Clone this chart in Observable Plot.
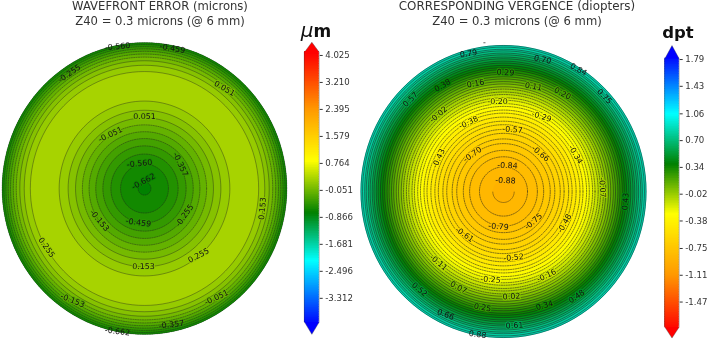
<!DOCTYPE html>
<html>
<head>
<meta charset="utf-8">
<script src="https://cdn.jsdelivr.net/npm/d3@7"></script>
<script src="https://cdn.jsdelivr.net/npm/@observablehq/plot@0.6"></script>
<style>
html,body{margin:0;padding:0;background:#fff}
#root{position:relative;width:709px;height:339px;overflow:hidden;filter:blur(.4px);font-family:"DejaVu Sans",sans-serif}
#root>*{position:absolute}
.t{color:#333;line-height:11px;text-align:center;white-space:nowrap;transform:translateX(-50%)}
.u{color:#111;white-space:nowrap;transform:translateX(-50%)}
</style>
</head>
<body>
<div id="root"></div>
<script>
// Wavefront error: contour levels and the two pupil radii at which each occurs
const waveLevels   = [-0.662,-0.560,-0.459,-0.357,-0.255,-0.153,-0.051,0.051,0.153,0.255];
const waveRhoOuter = [0.999,0.986,0.972,0.9565,0.940,0.921,0.900,0.875,0.844,0.801];
const waveRhoInner = [0.045,0.168,0.236,0.292,0.342,0.389,0.436,0.484,0.536,0.599];
const waveTicks    = [4.025,3.210,2.395,1.579,0.764,-0.051,-0.866,-1.681,-2.496,-3.312];

// Vergence: contour levels and pupil radius of each
const vergLevels = [-0.88,-0.84,-0.79,-0.75,-0.70,-0.66,-0.61,-0.57,-0.52,-0.48,-0.43,-0.38,-0.34,-0.29,-0.25,-0.20,-0.16,-0.11,-0.07,-0.02,0.02,0.07,0.11,0.16,0.20,0.25,0.29,0.34,0.38,0.43,0.48,0.52,0.57,0.61,0.66,0.70,0.75,0.79,0.84,0.88];
const vergRho    = [0.075,0.168,0.237,0.281,0.327,0.359,0.397,0.424,0.456,0.480,0.508,0.535,0.556,0.581,0.600,0.623,0.640,0.662,0.679,0.699,0.715,0.734,0.750,0.768,0.783,0.800,0.814,0.831,0.845,0.861,0.877,0.890,0.906,0.918,0.933,0.945,0.960,0.971,0.986,0.997];
const vergTicks  = [1.79,1.43,1.06,0.70,0.34,-0.02,-0.38,-0.75,-1.11,-1.47];

// Contour labels: text, position on the pupil, rotation
const waveLabels = [
["-0.560",-27,142,-5],["-0.459",28,140,10],["-0.255",-75,115,-35],["0.051",80,100,30],["0.051",0,72,0],
["-0.051",-34,54,-25],["-0.560",-5,25,-5],["-0.357",36,24,65],["-0.662",-1,7,-28],["-0.153",-45,-32,50],
["-0.459",-6,-34,8],["-0.255",40,-27,-55],["0.153",-1,-78,0],["0.255",54,-67,-28],["0.255",-98,-59,55],
["0.153",118,-20,-85],["-0.153",-72,-112,22],["-0.051",72,-109,-25],["-0.357",27,-136,-7],["-0.662",-27,-143,7]];
const vergLabels = [
["-",-19,149,0],["0.79",-35,138,-8],["0.70",39,132,12],["0.84",75,122,28],["0.75",101,95,45],["0.57",-93,92,-45],
["0.38",-61,106,-30],["0.29",2,119,3],["0.16",-28,108,-10],["0.11",30,105,10],["0.20",59,98,28],["-0.02",-65,77,-40],
["-0.20",-6,90,0],["-0.29",38,75,18],["-0.38",-35,69,-25],["-0.57",9,62,5],["-0.66",37,38,40],["-0.34",72,37,60],
["-0.43",-65,33,-65],["-0.70",-31,37,-35],["-0.84",4,26,3],["-0.88",2,11,3],["-0.07",99,4,87],["0.43",122,-10,-85],
["-0.79",-5,-35,5],["-0.75",30,-30,-40],["-0.48",61,-32,-60],["-0.61",-39,-43,35],["-0.52",10,-66,-5],["-0.11",-65,-71,40],
["-0.25",-13,-88,5],["-0.16",43,-84,-25],["0.07",-45,-96,28],["0.02",8,-105,-3],["0.25",-21,-116,10],["0.34",41,-114,-15],
["0.48",73,-105,-35],["0.52",-84,-98,40],["0.66",-58,-123,20],["0.61",11,-134,-3],["0.88",-26,-143,8]];

const waveColor = {type:"linear",domain:[-4.1,-2.17,-0.72,0.85,2.4,4.1],range:["#0000ff","#00ffff","#008000","#ffff00","#ff9900","#ff0000"],interpolate:"rgb",clamp:true};
const vergColor = {type:"linear",domain:[-1.85,-1.1,-0.28,0.385,1.06,1.85],range:["#ff0000","#ff9900","#ffff00","#008000","#00ffff","#0000ff"],interpolate:"rgb",clamp:true};

const thetas = d3.range(0,360,3);
const root = document.getElementById("root");

function place(node,left,top){node.style.left=left+"px";node.style.top=top+"px";root.appendChild(node);}

function disc({rings,step,labels,color,rx,ry,cx,cy,left,width,solid,ink}){
  const bands = rings.map((r,i)=>{
    const n = rings[i+1];
    const v = n ? (n.level===r.level ? r.level+step/2 : (r.level+n.level)/2) : r.level-step/2;
    return {...r,id:i,band:v};
  });
  const pts = bands.flatMap(b=>thetas.map(t=>({
    id:b.id,level:b.level,band:b.band,contour:b.contour,
    x:rx*b.rho*Math.cos(t*Math.PI/180),
    y:ry*b.rho*Math.sin(t*Math.PI/180)})));
  const arc = pts.filter(p=>p.level===-0.88 && p.y<0 && p.contour);
  const normal = pts.filter(p=>p.contour && p.level!==-0.88);
  const line = {x:"x",y:"y",z:"id",curve:"linear-closed",stroke:"#1c1c1c"};
  const lab = labels.map(([text,x,y,rot])=>({text,x,y,rot,v:parseFloat(text)||0}));
  const inner = d=>Math.hypot(d.x,d.y)<=135;
  const textOpts = {x:"x",y:"y",text:"text",rotate:"rot",fill:"#141414",fontSize:7.9,fontFamily:"DejaVu Sans"};
  const svg = Plot.plot({
    width,height:339,margin:0,
    x:{domain:[-cx,width-cx],range:[0,width],axis:null},
    y:{domain:[cy-339,cy],range:[339,0],axis:null},
    color,style:{background:"transparent",overflow:"hidden"},
    marks:[
      Plot.line(pts,{x:"x",y:"y",z:"id",curve:"linear-closed",fill:"band",stroke:"none"}),
      Plot.line(normal.filter(p=>solid(p.level)),{...line,strokeWidth:0.55,strokeOpacity:ink}),
      Plot.line(normal.filter(p=>!solid(p.level)),{...line,strokeWidth:0.6,strokeOpacity:ink,strokeDasharray:"1.2 1.2"}),
      Plot.line(arc,{x:"x",y:"y",z:"id",curve:"cardinal",stroke:"#1c1c1c",strokeWidth:0.55,strokeOpacity:0.8,strokeDasharray:"1.4 0.9"}),
      Plot.text(lab.filter(inner),{...textOpts,stroke:"v",strokeWidth:2}),
      Plot.text(lab.filter(d=>!inner(d)),textOpts)
    ]
  });
  place(svg,left,0);
}

function bar({ticks,fmt,color,lo,hi,tipLo,tipHi,range,left,width,x0,x1,colorLo,colorHi}){
  const steps = d3.range(0,160).map(i=>({a:lo+(hi-lo)*i/160,b:lo+(hi-lo)*(i+1)/160}));
  const outline = [[0,lo],[0.5,tipLo],[1,lo],[1,hi],[0.5,tipHi],[0,hi]].map(([x,y])=>({x,y}));
  const svg = Plot.plot({
    width,height:339,marginTop:0,marginBottom:0,marginLeft:x0,marginRight:width-x1,
    x:{domain:[0,1],axis:null},
    y:{domain:[range.lo,range.hi],range:range.px,axis:null},
    color,style:{background:"transparent",overflow:"visible"},
    marks:[
      Plot.rect(steps,{x1:0,x2:1,y1:"a",y2:"b",fill:d=>(d.a+d.b)/2,insetTop:-0.6,insetBottom:-0.6}),
      Plot.line(outline.slice(0,3),{x:"x",y:"y",curve:"linear-closed",fill:colorLo,stroke:"none"}),
      Plot.line(outline.slice(3),{x:"x",y:"y",curve:"linear-closed",fill:colorHi,stroke:"none"}),
      Plot.line(outline,{x:"x",y:"y",curve:"linear-closed",stroke:"#333",strokeWidth:0.5,strokeOpacity:0.7}),
      Plot.axisY(ticks,{anchor:"right",tickSize:3,tickPadding:3,tickFormat:fmt,label:null,fontSize:8.6,fontFamily:"DejaVu Sans",color:"#333"})
    ]
  });
  place(svg,left,0);
}

function html(cls,inner,left,top,extra){
  const d=document.createElement("div");d.className=cls;d.innerHTML=inner;
  if(extra)Object.assign(d.style,extra);place(d,left,top);
}

const waveRings = [{rho:1,level:-0.764,contour:false},
  ...waveLevels.map((level,i)=>({rho:waveRhoOuter[i],level,contour:true})),
  ...waveLevels.map((level,i)=>({rho:waveRhoInner[i],level,contour:true})).reverse()];
const vergRings = [{rho:1,level:0.925,contour:false},
  ...vergLevels.map((level,i)=>({rho:vergRho[i],level,contour:true})).reverse()];

disc({rings:waveRings,step:0.102,labels:waveLabels,color:waveColor,rx:142.5,ry:146,cx:144,cy:188,left:0,width:300,solid:v=>v>0,ink:0.7});
disc({rings:vergRings,step:0.0455,labels:vergLabels,color:vergColor,rx:143,ry:146.5,cx:148,cy:191,left:355,width:295,solid:v=>v>0,ink:0.9});

bar({ticks:waveTicks,fmt:d=>d.toFixed(3),color:waveColor,lo:-4.03,hi:4.125,tipLo:-4.40,tipHi:4.425,
     range:{lo:-4.45,hi:4.45,px:[335.5,40.9]},left:290,width:66,x0:14,x1:28.7,colorLo:"#0000ff",colorHi:"#ff0000"});
bar({ticks:vergTicks,fmt:d=>d.toFixed(2),color:vergColor,lo:-1.806,hi:1.80,tipLo:-1.954,tipHi:1.978,
     range:{lo:-1.98,hi:1.98,px:[339.5,44.9]},left:639,width:70,x0:25.3,x1:39.7,colorLo:"#ff0000",colorHi:"#0000ff"});

html("t","WAVEFRONT ERROR (microns)",160,1.3,{fontSize:"11.6px"});
html("t","Z40 = 0.3 microns (@ 6 mm)",160,15.5,{fontSize:"11.6px"});
html("t","CORRESPONDING VERGENCE (diopters)",517,1.3,{fontSize:"11.9px"});
html("t","Z40 = 0.3 microns (@ 6 mm)",517,15.5,{fontSize:"11.6px"});
html("u",'<i>μ</i><b style="font-size:17px">m</b>',316,18,{fontSize:"20px",lineHeight:"24px"});
html("u",'<b>dpt</b>',678,22,{fontSize:"16.5px",lineHeight:"22px"});
</script>
</body>
</html>
